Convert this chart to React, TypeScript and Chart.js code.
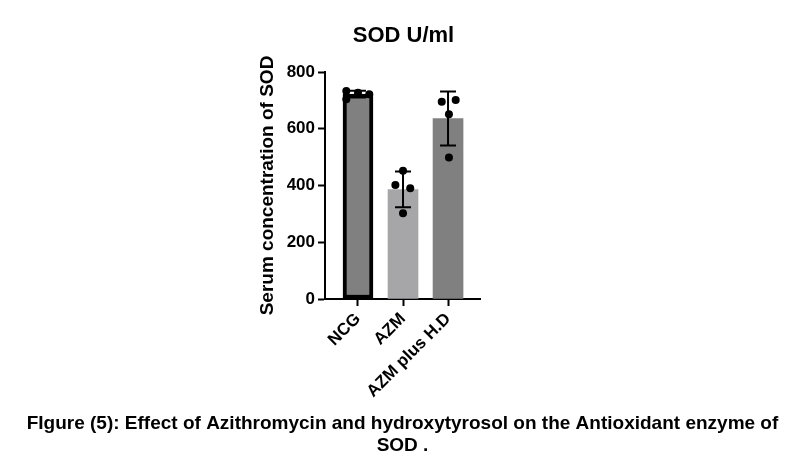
import React, { useEffect, useRef } from "react";
import { Chart, registerables } from "chart.js";

Chart.register(...registerables);

const categories = ["NCG", "AZM", "AZM plus H.D"];
const means = [722, 386, 636];
const sds = [12, 63, 95];
const ncgPoints = [733, 727, 722, 704];
const azmPoints = [452, 402, 390, 302];
const hdPoints = [695, 701, 651, 499];
const groupPoints = [ncgPoints, azmPoints, hdPoints];
const jitter = [
  [-0.26, 0, 0.25, -0.26],
  [0, -0.17, 0.16, 0],
  [-0.14, 0.17, 0.02, 0.02],
];
const yTicks = [0, 200, 400, 600, 800];
const barColors = ["#808080", "#a6a6a8", "#808080"];
const barBorders = [4, 0, 0];
const titleText = "SOD U/ml";
const yTitle = "Serum concentration of SOD";
const captionLines = [
  "FIgure (5): Effect of Azithromycin and hydroxytyrosol on the Antioxidant enzyme of",
  "SOD .",
];

const FONT = '"Liberation Sans", Arial, Helvetica, sans-serif';

const errorBarPlugin = {
  id: "errorBars",
  afterDatasetDraw(chart: any, args: any) {
    if (args.index !== 0) return;
    const { ctx } = chart;
    const x = chart.scales.x;
    const y = chart.scales.y;
    ctx.save();
    ctx.strokeStyle = "#000";
    ctx.lineWidth = 2;
    means.forEach((m, i) => {
      const px = x.getPixelForValue(i);
      const top = y.getPixelForValue(m + sds[i]);
      const bot = y.getPixelForValue(m - sds[i]);
      ctx.beginPath();
      ctx.moveTo(px, top);
      ctx.lineTo(px, bot);
      ctx.moveTo(px - 8, top);
      ctx.lineTo(px + 8, top);
      ctx.moveTo(px - 8, bot);
      ctx.lineTo(px + 8, bot);
      ctx.stroke();
    });
    ctx.restore();
  },
};

const textPlugin = {
  id: "texts",
  afterDraw(chart: any) {
    const { ctx, chartArea, width } = chart;
    ctx.save();
    ctx.fillStyle = "#000";
    ctx.textAlign = "center";
    ctx.textBaseline = "alphabetic";
    ctx.font = `bold 22px ${FONT}`;
    ctx.fillText(titleText, (chartArea.left + chartArea.right) / 2 + 1, 42);
    ctx.font = `bold 19px ${FONT}`;
    captionLines.forEach((line, i) => {
      ctx.fillText(line, width / 2 + 1, 429 + i * 22);
    });
    ctx.restore();
  },
};

export default function App() {
  const ref = useRef<HTMLCanvasElement | null>(null);

  useEffect(() => {
    document.body.style.margin = "0";
    const canvas = ref.current;
    if (!canvas) return;
    const scatterData: { x: number; y: number }[] = [];
    groupPoints.forEach((pts, i) => {
      pts.forEach((v, j) => scatterData.push({ x: i + jitter[i][j], y: v }));
    });
    const chart = new Chart(canvas, {
      type: "bar",
      data: {
        datasets: [
          {
            type: "bar",
            data: means.map((m, i) => ({ x: i, y: m })),
            backgroundColor: barColors,
            borderColor: "#000",
            borderWidth: barBorders,
            borderSkipped: false,
            barThickness: 30,
            order: 2,
          } as any,
          {
            type: "scatter",
            data: scatterData,
            backgroundColor: "#000",
            borderColor: "#000",
            borderWidth: 0,
            pointRadius: 4,
            order: 1,
          } as any,
        ],
      },
      options: {
        animation: false,
        responsive: false,
        devicePixelRatio: 1,
        layout: { padding: { left: 256, right: 323, top: 72, bottom: 0 } },
        plugins: {
          legend: { display: false },
          tooltip: { enabled: false },
          title: { display: false },
        },
        scales: {
          x: {
            type: "linear",
            min: -0.733,
            max: 2.71,
            offset: false,
            afterBuildTicks: (scale: any) => {
              scale.ticks = categories.map((_, i) => ({ value: i }));
            },
            afterFit: (scale: any) => {
              scale.height = 163;
            },
            ticks: {
              autoSkip: false,
              minRotation: 45,
              maxRotation: 45,
              color: "#000",
              font: { family: FONT, size: 17, weight: "bold" },
              padding: 3,
              callback: (v: any) => categories[v] ?? "",
            },
            grid: {
              offset: false,
              drawOnChartArea: false,
              drawTicks: true,
              tickLength: 7,
              tickWidth: 2,
              tickColor: "#000",
            },
            border: { display: true, color: "#000", width: 2 },
          },
          y: {
            type: "linear",
            min: 0,
            max: 800,
            afterBuildTicks: (scale: any) => {
              scale.ticks = yTicks.map((v) => ({ value: v }));
            },
            afterFit: (scale: any) => {
              scale.width = 69;
            },
            ticks: {
              color: "#000",
              font: { family: FONT, size: 17, weight: "bold" },
              padding: 3,
            },
            grid: {
              drawOnChartArea: false,
              drawTicks: true,
              tickLength: 7,
              tickWidth: 2,
              tickColor: "#000",
            },
            border: { display: true, color: "#000", width: 2 },
            title: {
              display: true,
              text: yTitle,
              color: "#000",
              font: { family: FONT, size: 19, weight: "bold" },
              padding: 0,
            },
          },
        },
      },
      plugins: [errorBarPlugin, textPlugin],
    });
    return () => chart.destroy();
  }, []);

  return <canvas ref={ref} width={803} height={462} style={{ display: "block" }} />;
}
